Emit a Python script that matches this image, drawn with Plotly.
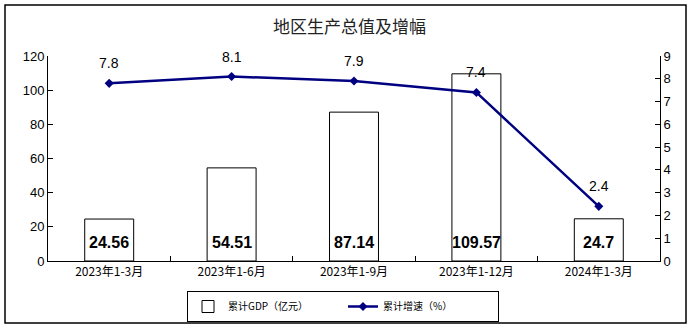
import plotly.graph_objects as go

categories = ["2023年1-3月", "2023年1-6月", "2023年1-9月", "2023年1-12月", "2024年1-3月"]
gdp = [24.56, 54.51, 87.14, 109.57, 24.7]
gdp_labels = ["24.56", "54.51", "87.14", "109.57", "24.7"]
growth = [7.8, 8.1, 7.9, 7.4, 2.4]
growth_labels = ["7.8", "8.1", "7.9", "7.4", "2.4"]
left_ticks = [0, 20, 40, 60, 80, 100, 120]
right_ticks = list(range(0, 10))

W, H = 692, 329
L, R, T, B = 48, 32, 56, 68
pw, ph = W - L - R, H - T - B


def py(pix):
    # convert a pixel row (from top of figure) to paper y
    return (H - B - pix) / ph


def px(pix):
    return (pix - L) / pw


fig = go.Figure()
fig.add_trace(go.Bar(
    x=categories, y=gdp, name="累计GDP（亿元）", width=0.4,
    marker=dict(color="white", line=dict(color="black", width=1)),
    yaxis="y",
))
fig.add_trace(go.Scatter(
    x=categories, y=growth, name="累计增速（%）", mode="lines+markers",
    line=dict(color="#000080", width=2.5),
    marker=dict(symbol="diamond", size=7, color="#000080"),
    yaxis="y2",
))

annotations = []
for c, lab in zip(categories, gdp_labels):
    annotations.append(dict(x=c, y=0, xref="x", yref="y", text=lab, showarrow=False,
                            yanchor="bottom", yshift=8,
                            font=dict(family="Arial, Liberation Sans", size=16, color="black", weight="bold")))
for c, v, lab in zip(categories, growth, growth_labels):
    annotations.append(dict(x=c, y=v, xref="x", yref="y2", text=lab, showarrow=False,
                            yanchor="middle", yshift=20,
                            font=dict(family="Arial, Liberation Sans", size=14, color="black")))
annotations.append(dict(x=px(349), y=py(25), xref="paper", yref="paper", text="地区生产总值及增幅",
                        showarrow=False, xanchor="center", yanchor="middle",
                        font=dict(family="Noto Sans CJK SC", size=17, color="#222")))

fig.update_layout(
    width=W, height=H, margin=dict(l=L, r=R, t=T, b=B, autoexpand=False),
    paper_bgcolor="white", plot_bgcolor="white",
    showlegend=True,
    legend=dict(orientation="h", x=px(343), xanchor="center", y=py(291), yanchor="top",
                bordercolor="black", borderwidth=1, bgcolor="white",
                font=dict(family="Noto Sans CJK SC", size=10, color="black"),
                entrywidth=110, tracegroupgap=0),
    xaxis=dict(showline=True, linecolor="black", linewidth=1, ticks="inside", tickson="boundaries",
               ticklen=5, tickcolor="black", showgrid=False,
               tickfont=dict(family="Noto Sans CJK SC", size=12, color="black")),
    yaxis=dict(range=[0, 120], tickvals=left_ticks, showline=True, linecolor="black", linewidth=1,
               ticks="inside", ticklen=5, tickcolor="black", showgrid=False, zeroline=False,
               tickfont=dict(family="Arial, Liberation Sans", size=13, color="black")),
    yaxis2=dict(range=[0, 9], tickvals=right_ticks, overlaying="y", side="right", showline=True,
                linecolor="black", linewidth=1, ticks="inside", ticklen=5, tickcolor="black",
                showgrid=False, zeroline=False,
                tickfont=dict(family="Arial, Liberation Sans", size=13, color="black")),
    annotations=annotations,
    shapes=[dict(type="rect", xref="paper", yref="paper",
                 x0=px(5), x1=px(686), y0=py(323), y1=py(5),
                 line=dict(color="black", width=1.5), fillcolor="rgba(0,0,0,0)", layer="below")],
)

fig.write_html("out.html")
